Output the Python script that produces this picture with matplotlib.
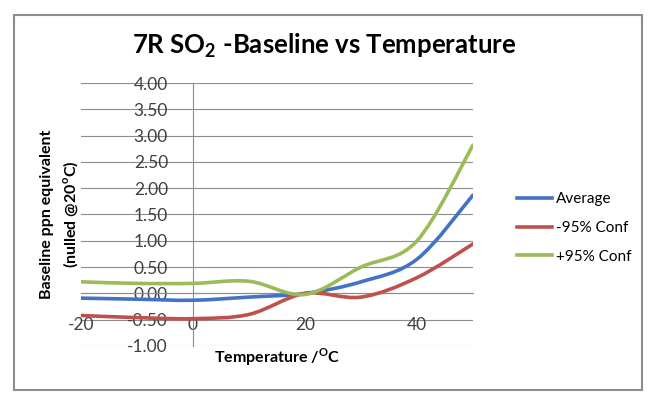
import matplotlib
matplotlib.use("Agg")
import matplotlib.pyplot as plt
from matplotlib.path import Path
from matplotlib.patches import PathPatch, Rectangle
from matplotlib.lines import Line2D

temperatura = [-20, -10, 0, 10, 20, 30, 40, 50]
media = [-0.09, -0.11, -0.13, -0.07, 0.0, 0.22, 0.65, 1.87]
conf_menos = [-0.42, -0.46, -0.48, -0.40, 0.0, -0.07, 0.30, 0.94]
conf_mais = [0.22, 0.19, 0.19, 0.23, -0.02, 0.50, 1.00, 2.82]

nomes = ["Average", "-95% Conf", "+95% Conf"]
cores = ["#4472C4", "#C0504D", "#9BBB59"]
yticks = [-1.0, -0.5, 0.0, 0.5, 1.0, 1.5, 2.0, 2.5, 3.0, 3.5, 4.0]
xticks = [-20, 0, 20, 40]

plt.rcParams['font.family'] = ['Lato', 'DejaVu Sans']
plt.rcParams['mathtext.fontset'] = 'custom'
plt.rcParams['mathtext.rm'] = 'Lato'
plt.rcParams['mathtext.bf'] = 'Lato:bold'


def curvaSuave(xs, ys):
    # linha suavizada como no Excel (bezier tipo catmull-rom)
    pts = list(zip(xs, ys))
    verts = [pts[0]]
    codes = [Path.MOVETO]
    n = len(pts)
    for i in range(n - 1):
        p0 = pts[i - 1] if i > 0 else pts[i]
        p1 = pts[i]
        p2 = pts[i + 1]
        p3 = pts[i + 2] if i + 2 < n else pts[i + 1]
        c1 = (p1[0] + (p2[0] - p0[0]) / 6, p1[1] + (p2[1] - p0[1]) / 6)
        c2 = (p2[0] - (p3[0] - p1[0]) / 6, p2[1] - (p3[1] - p1[1]) / 6)
        verts += [c1, c2, p2]
        codes += [Path.CURVE4] * 3
    return Path(verts, codes)


fig = plt.figure(figsize=(6.48, 3.99), dpi=100)
fig.patches.append(Rectangle((14 / 648, 1 - 390 / 399), 628 / 648, 375 / 399,
                             transform=fig.transFigure, fill=False,
                             edgecolor="#8c8c8c", linewidth=1.5))
ax = fig.add_axes([81 / 648, 1 - 346 / 399, 392 / 648, 263 / 399])

ax.set_xlim(-20, 50)
ax.set_ylim(-1, 4)
for y in yticks:
    ax.axhline(y, color="#8c8c8c", linewidth=0.8, zorder=0)

for s in ["top", "right"]:
    ax.spines[s].set_visible(False)
ax.spines["left"].set_position(("data", 0))
ax.spines["bottom"].set_position(("data", 0))
ax.spines["left"].set_color("#8c8c8c")
ax.spines["bottom"].set_color("#8c8c8c")
ax.spines["left"].set_linewidth(0.8)
ax.spines["bottom"].set_linewidth(0.8)

ax.set_yticks(yticks)
ax.set_yticklabels([f"{v:.2f}" for v in yticks])
ax.set_xticks(xticks)
ax.set_xticklabels([str(v) for v in xticks])
ax.tick_params(length=0, labelsize=12.5, labelcolor="#404040")
ax.tick_params(axis="y", pad=18)
ax.tick_params(axis="x", pad=17)

handles = []
for serie, nome, cor in zip([media, conf_menos, conf_mais], nomes, cores):
    ax.add_patch(PathPatch(curvaSuave(temperatura, serie), fill=False,
                           edgecolor=cor, linewidth=2.6, capstyle="round", zorder=3))
    handles.append(Line2D([], [], color=cor, linewidth=2.6))

fig.text(0.5, 1 - 46 / 399, "7R SO$_\\mathbf{2}$ -Baseline vs Temperature",
         ha="center", va="center", fontsize=18.5, fontweight="bold")
fig.text(277 / 648, 1 - 357 / 399, "Temperature /$^\\mathbf{O}$C",
         ha="center", va="center", fontsize=11.5, fontweight="bold")
fig.text(60 / 648, 1 - 214 / 399, "Baseline ppn equivalent\n(nulled @20$^\\mathbf{o}$C)",
         ha="center", va="center", rotation=90, fontsize=11.5, fontweight="bold",
         linespacing=1.45)

fig.legend(handles, nomes, loc="center left", bbox_to_anchor=(503 / 648, 1 - 228 / 399),
           frameon=False, fontsize=11, handlelength=2.3, handletextpad=0.25,
           labelspacing=0.95)

fig.savefig("out.png", dpi=100)
